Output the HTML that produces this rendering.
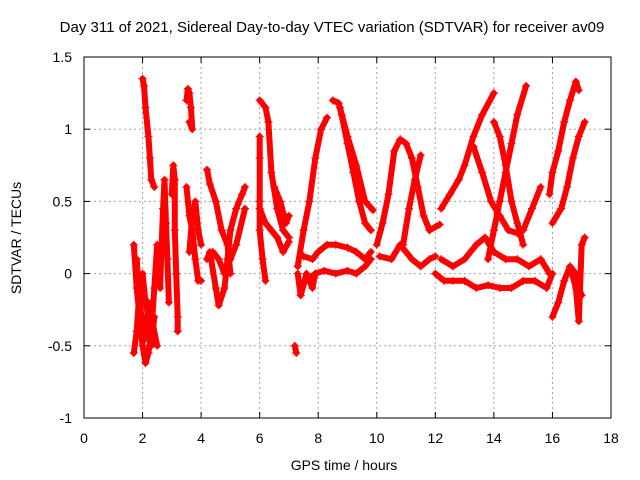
<!DOCTYPE html>
<html><head><meta charset="utf-8"><style>
body{margin:0;background:#fff;}
svg{display:block;font-family:"Liberation Sans",sans-serif;}
</style></head><body>
<svg id="chart" width="640" height="480">
<rect width="640" height="480" fill="#fff"/>
<text x="332" y="32" font-size="15" text-anchor="middle">Day 311 of 2021, Sidereal Day-to-day VTEC variation (SDTVAR) for receiver av09</text>
<text x="344" y="470" font-size="14" text-anchor="middle">GPS time / hours</text>
<text transform="translate(21,238) rotate(-90)" font-size="14" text-anchor="middle">SDTVAR / TECUs</text>
<g id="grid"></g><g id="ticks"></g><g id="marks"></g>
<rect x="84" y="57" width="527" height="361" fill="none" stroke="#000" stroke-width="1"/>
</svg>
<script>
const xTicks=[0,2,4,6,8,10,12,14,16,18];
const yTicks=[-1,-0.5,0,0.5,1,1.5];
const yTickLabels=["-1","-0.5","0","0.5","1","1.5"];
const tracks=[
[[2.0,1.35],[2.05,1.3],[2.1,1.15],[2.2,0.95],[2.25,0.8],[2.3,0.65],[2.4,0.6]],
[[1.7,0.2],[1.8,-0.1],[1.9,-0.3],[2.0,-0.5],[2.1,-0.62],[2.2,-0.55],[2.3,-0.4],[2.4,-0.1],[2.5,0.2]],
[[1.7,-0.55],[1.8,-0.4],[1.9,-0.1],[2.0,0.0],[2.1,-0.2],[2.2,-0.3],[2.3,-0.3],[2.5,-0.5]],
[[1.8,0.1],[1.9,-0.2],[2.0,-0.35],[2.1,-0.45],[2.2,-0.2],[2.3,-0.5],[2.4,-0.3]],
[[2.6,-0.1],[2.65,0.2],[2.7,0.45],[2.75,0.65],[2.8,0.35],[2.85,0.1],[2.9,-0.2]],
[[3.0,0.55],[3.05,0.75],[3.1,0.65],[3.1,0.3],[3.15,0.0],[3.2,-0.3],[3.2,-0.4]],
[[3.5,1.2],[3.55,1.28],[3.6,1.25],[3.65,1.15],[3.7,1.0],[3.6,1.05]],
[[3.5,0.6],[3.6,0.4],[3.7,0.3],[3.8,0.1],[3.9,-0.05],[4.0,-0.05]],
[[3.6,0.15],[3.7,0.4],[3.8,0.5],[3.9,0.3],[4.0,0.2]],
[[4.2,0.72],[4.3,0.62],[4.5,0.5],[4.7,0.3],[4.9,0.2],[5.0,0.0]],
[[4.2,0.1],[4.3,0.15],[4.5,-0.1],[4.6,-0.22],[4.8,-0.1],[4.9,0.1],[5.0,0.3],[5.2,0.45],[5.4,0.55],[5.5,0.6]],
[[4.4,0.15],[4.6,0.1],[4.8,0.0],[5.0,0.1],[5.2,0.2],[5.5,0.45]],
[[6.0,1.2],[6.2,1.15],[6.3,1.05],[6.4,0.7],[6.6,0.45],[6.8,0.3],[7.0,0.25]],
[[6.0,0.95],[6.0,0.8],[6.0,0.5],[6.0,0.3],[6.1,0.1],[6.2,-0.05]],
[[6.5,0.6],[6.7,0.5],[6.9,0.35],[7.0,0.4]],
[[6.0,0.45],[6.2,0.35],[6.4,0.3],[6.6,0.25],[6.8,0.15],[7.0,0.22]],
[[7.2,-0.5],[7.25,-0.55]],
[[7.3,0.05],[7.5,0.3],[7.7,0.5],[7.9,0.8],[8.1,1.0],[8.3,1.08]],
[[7.3,0.0],[7.4,-0.15],[7.6,0.0],[7.8,-0.1],[7.9,0.0]],
[[8.5,1.2],[8.7,1.18],[8.8,1.1],[9.0,0.9],[9.2,0.7],[9.4,0.5],[9.6,0.35],[9.8,0.3]],
[[8.74,1.15],[9.0,0.95],[9.3,0.75],[9.6,0.5],[9.87,0.44]],
[[7.5,0.12],[7.8,0.1],[8.0,0.15],[8.3,0.2],[8.6,0.2],[9.0,0.18],[9.3,0.15],[9.6,0.1],[9.8,0.15]],
[[7.6,-0.05],[7.9,0.0],[8.2,0.02],[8.6,0.0],[9.0,0.02],[9.3,0.0],[9.6,0.05],[9.8,0.1]],
[[10.0,0.2],[10.2,0.35],[10.4,0.55],[10.6,0.85],[10.8,0.93],[11.0,0.9],[11.2,0.8],[11.4,0.6],[11.6,0.4],[11.8,0.3],[12.15,0.34]],
[[10.9,0.2],[11.1,0.45],[11.3,0.65],[11.5,0.82]],
[[10.1,0.12],[10.5,0.1],[10.8,0.2],[11.2,0.1],[11.5,0.05],[11.8,0.1],[12.0,0.12]],
[[12.2,0.45],[12.5,0.55],[12.8,0.65],[13.0,0.75],[13.3,0.95],[13.6,1.1],[14.0,1.25]],
[[13.3,0.88],[13.6,0.7],[13.9,0.5],[14.2,0.4],[14.5,0.3],[14.8,0.28],[15.0,0.3],[15.3,0.45],[15.6,0.6]],
[[13.8,0.1],[14.0,0.3],[14.2,0.5],[14.4,0.7],[14.6,0.9],[14.8,1.1],[15.1,1.3]],
[[14.0,1.05],[14.2,0.95],[14.4,0.75],[14.6,0.5],[14.8,0.35],[15.0,0.2]],
[[12.0,0.0],[12.3,-0.05],[12.6,-0.05],[13.0,-0.05],[13.4,-0.1],[13.8,-0.08],[14.2,-0.1],[14.6,-0.1],[15.0,-0.05],[15.4,-0.05],[15.8,-0.1],[16.0,0.0]],
[[12.2,0.1],[12.6,0.05],[13.0,0.1],[13.4,0.2],[13.7,0.25],[14.0,0.15],[14.4,0.1],[14.8,0.1],[15.2,0.05],[15.6,0.1],[15.9,0.0]],
[[15.9,0.55],[16.0,0.7],[16.2,0.85],[16.4,1.05],[16.6,1.2],[16.8,1.33],[16.9,1.27]],
[[16.0,-0.3],[16.2,-0.2],[16.4,-0.05],[16.6,0.05],[16.8,0.0],[16.9,-0.1],[17.0,-0.15]],
[[16.0,0.35],[16.3,0.45],[16.5,0.6],[16.7,0.8],[16.9,0.95],[17.1,1.05]],
[[16.6,0.05],[16.8,-0.1],[16.9,-0.33],[17.0,0.2],[17.1,0.25]]
];
const NS="http://www.w3.org/2000/svg";
const X0=84,X1=611,Y0=418,Y1=57;
function sx(t){return X0+(t-0)/(18-0)*(X1-X0);}
function sy(v){return Y0-(v+1)/(2.5)*(Y0-Y1);}
function mk(tag,attrs,parent){const e=document.createElementNS(NS,tag);for(const k in attrs)e.setAttribute(k,attrs[k]);parent.appendChild(e);return e;}
const grid=document.getElementById('grid'),ticks=document.getElementById('ticks'),marks=document.getElementById('marks');
xTicks.forEach((t,i)=>{
  const x=sx(t);
  if(i>0&&i<xTicks.length-1){const g=mk('line',{x1:x,x2:x,y1:Y1,y2:Y0,stroke:'#a0a0a0','stroke-dasharray':'2,3'},grid);
  
  }
  mk('line',{x1:x,x2:x,y1:Y0,y2:Y0-6,stroke:'#000'},ticks);
  mk('line',{x1:x,x2:x,y1:Y1,y2:Y1+6,stroke:'#000'},ticks);
  const l=mk('text',{x:x,y:443,'font-size':14,'text-anchor':'middle'},ticks);l.textContent=String(t);
  
  
});
yTicks.forEach((v,i)=>{
  const y=sy(v);
  if(i>0&&i<yTicks.length-1){const g=mk('line',{x1:X0,x2:X1,y1:y,y2:y,stroke:'#a0a0a0','stroke-dasharray':'2,3'},grid);
  
  }
  mk('line',{x1:X0,x2:X0+6,y1:y,y2:y,stroke:'#000'},ticks);
  mk('line',{x1:X1,x2:X1-6,y1:y,y2:y,stroke:'#000'},ticks);
  const l=mk('text',{x:72,y:y+5,'font-size':14,'text-anchor':'end'},ticks);l.textContent=yTickLabels[i];
  
  
});
tracks.forEach((tr)=>{
  const g=mk('g',{},marks);
  
  
  const d=tr.map((p,j)=>(j?'L':'M')+sx(p[0]).toFixed(1)+','+sy(p[1]).toFixed(1)).join('');
  mk('path',{d:d,fill:'none',stroke:'#ff0000','stroke-width':6,'stroke-linejoin':'round','stroke-linecap':'round'},g);
  tr.forEach(p=>{
    const x=sx(p[0]),y=sy(p[1]);
    const m=mk('path',{d:`M${x-4},${y}H${x+4}M${x},${y-4}V${y+4}`,stroke:'#ff0000','stroke-width':1.2},g);
    
    
  });
});
</script>
</body></html>
